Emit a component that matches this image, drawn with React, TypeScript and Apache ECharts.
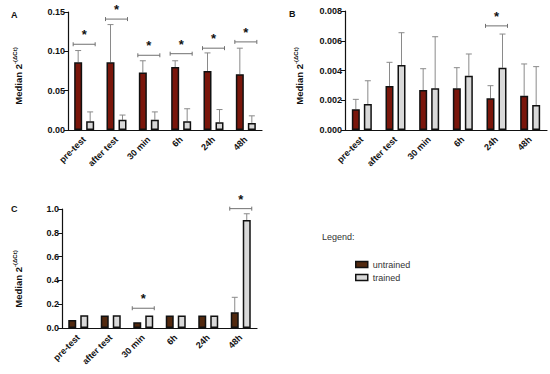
import React, { useEffect, useRef } from "react";
import * as echarts from "echarts";

const categories = ["pre-test", "after test", "30 min", "6h", "24h", "48h"];

// Panel A
const untrainedA = [0.086, 0.086, 0.073, 0.080, 0.075, 0.071];
const untrainedErrA = [0.101, 0.134, 0.088, 0.088, 0.098, 0.104];
const trainedA = [0.011, 0.013, 0.013, 0.011, 0.010, 0.009];
const trainedErrA = [0.023, 0.019, 0.023, 0.027, 0.026, 0.018];
const sigA = [0.109, 0.141, 0.095, 0.097, 0.104, 0.112];

// Panel B
const untrainedB = [0.0014, 0.00296, 0.00269, 0.0028, 0.00213, 0.0023];
const untrainedErrB = [0.00206, 0.00455, 0.00412, 0.00419, 0.00298, 0.00444];
const trainedB = [0.00175, 0.00437, 0.0028, 0.00365, 0.00419, 0.00168];
const trainedErrB = [0.00331, 0.00654, 0.00627, 0.00511, 0.00645, 0.00426];
const sigB = [null, null, null, null, 0.007, null];

// Panel C
const untrainedC = [0.067, 0.104, 0.048, 0.104, 0.104, 0.132];
const untrainedErrC = [null, null, null, null, null, 0.258];
const trainedC = [0.107, 0.107, 0.104, 0.104, 0.104, 0.907];
const trainedErrC = [null, null, null, null, null, 0.96];
const sigC = [null, null, 0.166, null, null, 1.003];

const ticksA = ["0.00", "0.05", "0.10", "0.15"];
const ticksB = ["0.000", "0.002", "0.004", "0.006", "0.008"];
const ticksC = ["0.0", "0.2", "0.4", "0.6", "0.8", "1.0"];

const FONT = 'Arial, "Liberation Sans", Helvetica, sans-serif';
const RED = "#7a160b";
const BROWN = "#52290f";
const GRAY = "#d9d9d9";
const BAR_W = 8;
const OFFSET = 6;

function errData(vals: (number | null)[], errs: (number | null)[]) {
  const out: any[] = [];
  vals.forEach((v, i) => {
    const e = errs[i];
    if (v != null && e != null) out.push([i, v, e]);
  });
  return out;
}

function sigData(sig: (number | null)[]) {
  const out: any[] = [];
  sig.forEach((s, i) => {
    if (s != null) out.push([i, s]);
  });
  return out;
}

function errSeries(name: string, idx: number, vals: any, errs: any, offset: number) {
  return {
    name,
    type: "custom",
    xAxisIndex: idx,
    yAxisIndex: idx,
    z: 1,
    silent: true,
    data: errData(vals, errs),
    encode: { x: 0, y: 2 },
    renderItem: (params: any, api: any) => {
      const p0 = api.coord([api.value(0), api.value(1)]);
      const p1 = api.coord([api.value(0), api.value(2)]);
      const cx = p0[0] + offset;
      const st = { stroke: "#8a8a8a", lineWidth: 1 };
      return {
        type: "group",
        children: [
          { type: "line", shape: { x1: cx, y1: p0[1], x2: cx, y2: p1[1] }, style: st },
          { type: "line", shape: { x1: cx - 3, y1: p1[1], x2: cx + 3, y2: p1[1] }, style: st },
        ],
      };
    },
  };
}

function sigSeries(name: string, idx: number, sig: any) {
  return {
    name,
    type: "custom",
    xAxisIndex: idx,
    yAxisIndex: idx,
    z: 5,
    silent: true,
    clip: false,
    data: sigData(sig),
    encode: { x: 0, y: 1 },
    renderItem: (params: any, api: any) => {
      const p = api.coord([api.value(0), api.value(1)]);
      const x0 = p[0] - 11;
      const x1 = p[0] + 11;
      const y = p[1];
      const st = { stroke: "#707070", lineWidth: 1 };
      return {
        type: "group",
        children: [
          { type: "line", shape: { x1: x0, y1: y, x2: x1, y2: y }, style: st },
          { type: "line", shape: { x1: x0, y1: y - 2, x2: x0, y2: y + 2 }, style: st },
          { type: "line", shape: { x1: x1, y1: y - 2, x2: x1, y2: y + 2 }, style: st },
          {
            type: "text",
            style: {
              text: "*",
              x: p[0],
              y: y - 3,
              align: "center",
              verticalAlign: "bottom",
              fontSize: 13,
              fontWeight: "bold",
              fontFamily: FONT,
              fill: "#111",
            },
          },
        ],
      };
    },
  };
}

function barSeries(name: string, idx: number, data: number[], color: string) {
  return {
    name,
    type: "bar",
    xAxisIndex: idx,
    yAxisIndex: idx,
    z: 3,
    barWidth: BAR_W,
    barGap: "50%",
    data,
    itemStyle: { color, borderColor: "#111", borderWidth: 1.5 },
  };
}

function xAxis(idx: number) {
  return {
    type: "category",
    gridIndex: idx,
    data: categories,
    axisLine: { lineStyle: { color: "#111", width: 1.2 } },
    axisTick: { alignWithLabel: true, length: 3, lineStyle: { color: "#111" } },
    axisLabel: {
      show: true,
      rotate: 45,
      interval: 0,
      margin: 8,
      fontSize: 9,
      fontWeight: "bold",
      fontFamily: FONT,
      color: "#111",
    },
  };
}

function yAxis(idx: number, max: number, interval: number, ticks: string[]) {
  return {
    type: "value",
    gridIndex: idx,
    min: 0,
    max,
    interval,
    splitLine: { show: false },
    axisLine: { show: true, lineStyle: { color: "#111", width: 1.2 } },
    axisTick: { show: true, length: 4, lineStyle: { color: "#111" } },
    axisLabel: {
      fontSize: 9,
      fontWeight: "bold",
      fontFamily: FONT,
      color: "#111",
      margin: 3,
      formatter: (v: number) => ticks[Math.round(v / interval)] ?? "",
    },
  };
}

const nameRich = {
  m: { fontSize: 9.5, fontWeight: "bold", fontFamily: FONT, fill: "#111", lineHeight: 12 },
  s: { fontSize: 6, fontWeight: "bold", fontFamily: FONT, fill: "#111", verticalAlign: "top", lineHeight: 12 },
};

function yName(x: number, y: number) {
  return {
    type: "text",
    x,
    y,
    rotation: Math.PI / 2,
    style: {
      text: "{m|Median 2}{s|-(ΔCt)}",
      rich: nameRich,
      align: "center",
      verticalAlign: "middle",
    },
  };
}

export default function App() {
  const ref = useRef<HTMLDivElement>(null);
  useEffect(() => {
    if (!ref.current) return;
    const chart = echarts.init(ref.current, null, { renderer: "svg" });
    const option: any = {
      animation: false,
      backgroundColor: "#ffffff",
      title: [
        { text: "A", left: 6, top: 5, textStyle: { fontSize: 9, fontWeight: "bold", fontFamily: FONT, color: "#111" } },
        { text: "B", left: 284, top: 4, textStyle: { fontSize: 9, fontWeight: "bold", fontFamily: FONT, color: "#111" } },
        { text: "C", left: 6, top: 199, textStyle: { fontSize: 9, fontWeight: "bold", fontFamily: FONT, color: "#111" } },
        { text: "Legend:", left: 317, top: 227, textStyle: { fontSize: 9, fontWeight: "normal", fontFamily: FONT, color: "#333" } },
      ],
      graphic: [yName(18, 76), yName(299, 76), yName(18, 279)],
      legend: {
        orient: "vertical",
        left: 350,
        top: 255,
        itemWidth: 12,
        itemHeight: 6,
        itemGap: 4,
        icon: "rect",
        textStyle: { fontSize: 9, fontFamily: FONT, color: "#333" },
        data: [
          { name: "untrained", itemStyle: { color: BROWN, borderColor: "#111", borderWidth: 1.5 } },
          { name: "trained", itemStyle: { color: GRAY, borderColor: "#111", borderWidth: 1.5 } },
        ],
      },
      grid: [
        { left: 68, right: 288, top: 12, bottom: 244, outerBoundsMode: "none" },
        { left: 345, right: 3, top: 11, bottom: 244, outerBoundsMode: "none" },
        { left: 62, right: 293, top: 209, bottom: 46, outerBoundsMode: "none" },
      ],
      xAxis: [xAxis(0), xAxis(1), xAxis(2)],
      yAxis: [
        yAxis(0, 0.15, 0.05, ticksA),
        yAxis(1, 0.008, 0.002, ticksB),
        yAxis(2, 1.0, 0.2, ticksC),
      ],
      series: [
        barSeries("untrained", 0, untrainedA, RED),
        barSeries("trained", 0, trainedA, GRAY),
        errSeries("errUA", 0, untrainedA, untrainedErrA, -OFFSET),
        errSeries("errTA", 0, trainedA, trainedErrA, OFFSET),
        sigSeries("sigA", 0, sigA),
        barSeries("untrained", 1, untrainedB, RED),
        barSeries("trained", 1, trainedB, GRAY),
        errSeries("errUB", 1, untrainedB, untrainedErrB, -OFFSET),
        errSeries("errTB", 1, trainedB, trainedErrB, OFFSET),
        sigSeries("sigB", 1, sigB),
        barSeries("untrained", 2, untrainedC, BROWN),
        barSeries("trained", 2, trainedC, GRAY),
        errSeries("errUC", 2, untrainedC, untrainedErrC, -OFFSET),
        errSeries("errTC", 2, trainedC, trainedErrC, OFFSET),
        sigSeries("sigC", 2, sigC),
      ],
    };
    chart.setOption(option);
    return () => chart.dispose();
  }, []);
  return (
    <div
      ref={ref}
      style={{ position: "absolute", left: 0, top: 0, width: 550, height: 374 }}
    />
  );
}
